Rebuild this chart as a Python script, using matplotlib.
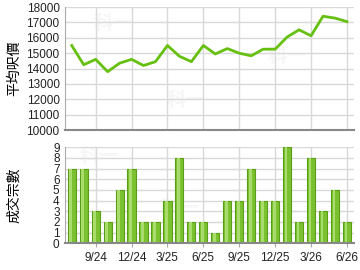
import numpy as np
import matplotlib
matplotlib.use("Agg")
import matplotlib.pyplot as plt

plt.rcParams['font.family'] = ['Liberation Sans', 'Noto Sans CJK TC', 'DejaVu Sans']

months = ['7/24', '8/24', '9/24', '10/24', '11/24', '12/24', '1/25', '2/25',
          '3/25', '4/25', '5/25', '6/25', '7/25', '8/25', '9/25', '10/25',
          '11/25', '12/25', '1/26', '2/26', '3/26', '4/26', '5/26', '6/26']
avg_price = [15500, 14250, 14600, 13800, 14350, 14600, 14200, 14450,
             15500, 14800, 14450, 15500, 14950, 15300, 15000, 14830,
             15260, 15260, 16050, 16520, 16130, 17400, 17280, 17050]
deals = [7, 7, 3, 2, 5, 7, 2, 2, 4, 8, 2, 2, 1, 4, 4, 7, 4, 4, 9, 2, 8, 3, 5, 2]
tick_months = ['9/24', '12/24', '3/25', '6/25', '9/25', '12/25', '3/26', '6/26']

x = np.arange(len(months))
tick_pos = [months.index(m) for m in tick_months]
grid_c = '#d9d9d9'

fig = plt.figure(figsize=(3.6, 2.7), dpi=100)
ax1 = fig.add_axes([0.181, 0.518, 0.802, 0.456])
ax2 = fig.add_axes([0.181, 0.099, 0.802, 0.356])

for ax in (ax1, ax2):
    ax.set_xlim(-0.55, len(months) - 0.42)
    ax.set_xticks(tick_pos)
    ax.grid(True, color=grid_c, linewidth=1)
    ax.set_axisbelow(True)
    for s in ('top', 'right'):
        ax.spines[s].set_visible(False)
    ax.spines['left'].set_color('#aaaaaa')
    ax.spines['bottom'].set_color('#888888')
    ax.spines['bottom'].set_linewidth(1.5)
    ax.tick_params(axis='y', length=0, labelsize=8.5, pad=4, colors='#222222')
    ax.tick_params(axis='x', length=3, color='#aaaaaa', labelsize=8.5, colors='#222222')

# top: average price per sq ft
ax1.plot(x, avg_price, color='#66c010', linewidth=2)
ax1.set_ylim(10000, 18000)
ax1.set_yticks(range(10000, 18001, 1000))
ax1.set_xticklabels([])
ax1.tick_params(axis='x', length=0)
ax1.set_ylabel('平均呎價', fontsize=10)
ax1.yaxis.set_label_coords(-0.152, 0.5)

# bottom: number of transactions
ax2.bar(x, deals, width=0.68, color='#7cc230', edgecolor='#5a9e16', linewidth=0.8)
ax2.bar(x - 0.08, deals, width=0.22, color='#a8dc6c', linewidth=0)
ax2.set_ylim(0, 9)
ax2.set_yticks(range(0, 10))
ax2.set_xticklabels(tick_months)
ax2.set_ylabel('成交宗數', fontsize=10)
ax2.yaxis.set_label_coords(-0.152, 0.5)

# faint watermarks
for (wx, wy) in [(0.1, 0.82), (0.7, 0.55), (0.35, 0.2)]:
    ax1.text(wx, wy, '科一', transform=ax1.transAxes, fontsize=14,
             color='#f6f6f6', fontweight='bold', zorder=0)
for (wx, wy) in [(0.05, 0.85), (0.33, 0.3), (0.68, 0.25)]:
    ax2.text(wx, wy, '科一', transform=ax2.transAxes, fontsize=14,
             color='#f6f6f6', fontweight='bold', zorder=0)

fig.savefig('out.png', dpi=100)
